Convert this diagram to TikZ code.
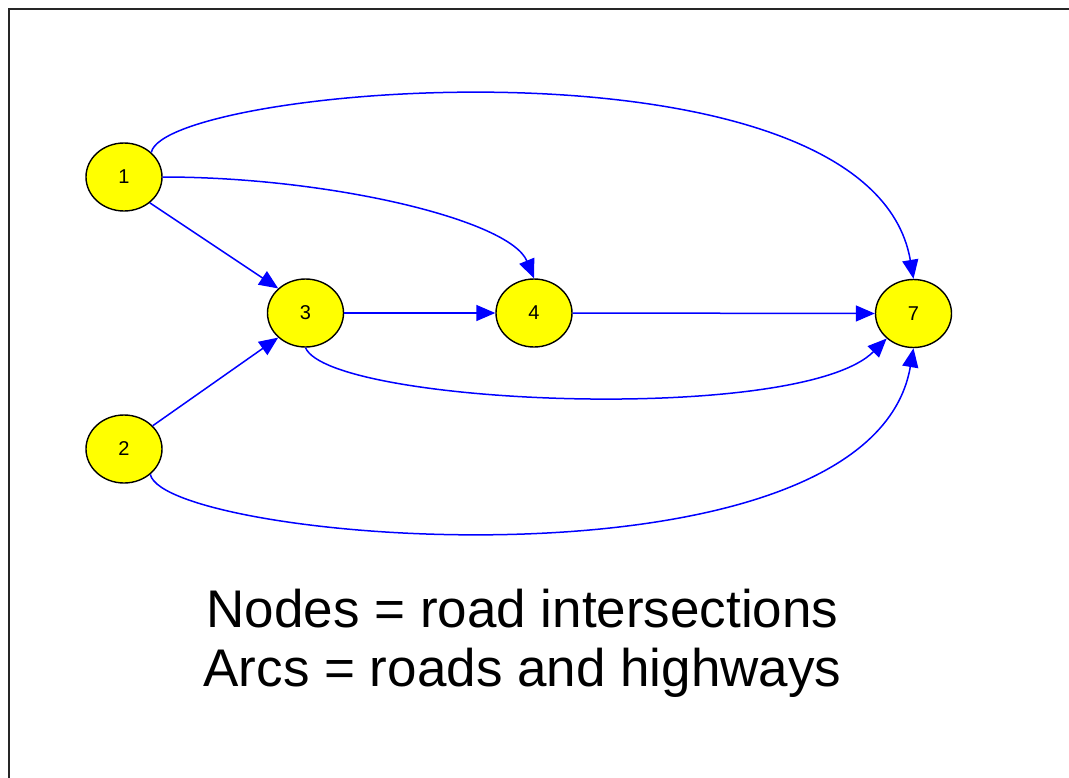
\documentclass[tikz,border=0pt]{standalone}
\usepackage{fontspec}
\setmainfont{Liberation Sans}
\usetikzlibrary{shapes.geometric,arrows.meta}
\definecolor{nodefill}{RGB}{255,255,0}
\definecolor{arcblue}{RGB}{0,0,255}
\tikzset{
  junction/.style={ellipse, draw=black, line width=1.4pt, fill=nodefill,
    minimum width=76pt, minimum height=68pt, inner sep=0pt,
    font=\fontsize{20}{24}\selectfont},
  arc/.style={draw=arcblue, line width=1.5pt,
    -{Triangle[length=19pt,width=16pt]}},
  caption/.style={font=\fontsize{53}{63}\selectfont, inner sep=0pt}
}
\begin{document}
\begin{tikzpicture}[x=1pt,y=-1pt]
  \useasboundingbox (0,0) rectangle (1069,777);
  % outer frame, running off the right and bottom edges
  \begin{scope}
    \clip (0,0) rectangle (1069,777);
    \draw[line width=2pt, black!85] (9,9) rectangle (1090,800);
  \end{scope}

  % intersections
  \node[junction] (n1) at (124,177)   {1};
  \node[junction] (n2) at (124,449)   {2};
  \node[junction] (n3) at (305.5,313) {3};
  \node[junction] (n4) at (534,313)   {4};
  \node[junction] (n7) at (913.5,313.5) {7};

  % roads
  \draw[arc] (n1.42) .. controls (165,85) and (870,25) .. (n7.north);
  \draw[arc] (n1.east) .. controls (330,177) and (510,220) .. (n4.north);
  \draw[arc] (n1.-45) -- (n3.138);
  \draw[arc] (n2.39) -- (n3.222);
  \draw[arc] (n3.east) -- (n4.west);
  \draw[arc] (n4.east) -- (n7.west);
  \draw[arc] (n3.south) .. controls (330,405) and (800,425) .. (n7.223);
  \draw[arc] (n2.-44) .. controls (165,542) and (870,602) .. (n7.south);

  % legend
  \node[caption] (cap1) at (522.5,609) {Nodes = road intersections};
  \node[caption] (cap2) at (522.5,673) {Arcs = roads and highways};
\end{tikzpicture}
\end{document}
